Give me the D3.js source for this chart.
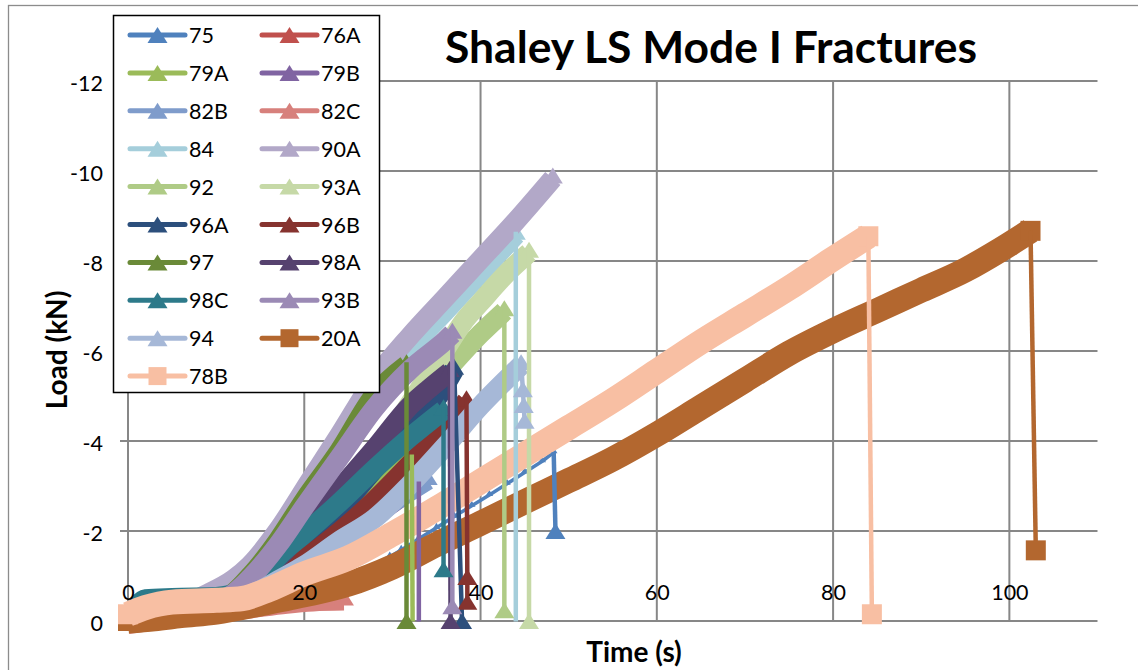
<!DOCTYPE html>
<html><head><meta charset="utf-8">
<script src="https://cdn.jsdelivr.net/npm/d3@7"></script>
<style>body{margin:0;background:#fff}svg{display:block}</style>
</head><body>
<svg id="chart" width="1138" height="670"></svg>
<script>
// ---------------- DATA ----------------
const seriesNames = ["75","76A","79A","79B","82B","82C","84","90A","92","93A","96A","96B","97","98A","98C","93B","94","20A","78B"];
const seriesColors = ["#4F81BD","#C0504D","#9BBB59","#8064A2","#7F9CCB","#D7807C","#A5CEDB","#B2A8C8","#AFCB86","#C6D9A7","#2C4F7C","#86332F","#6A8A38","#56426F","#2D7A8A","#9B8AB5","#A6B8D7","#B3672F","#F8BFA3"];
const seriesMarkers = ["tri","tri","tri","tri","tri","tri","tri","tri","tri","tri","tri","tri","tri","tri","tri","tri","tri","sq","sq"];

const time75  = [0,2,5,10,15,20,25,29.7,31,33,35,37,39,41,43,45,47,48.3,48.5];
const load75  = [0,-0.2,-0.35,-0.42,-0.5,-0.72,-0.95,-1.43,-1.58,-1.83,-2.07,-2.32,-2.56,-2.8,-3.05,-3.3,-3.55,-3.75,-2.0];
const time76A = [0,1,3,8,12,15,17.3,20,24,28,32,36];
const load76A = [0,-0.15,-0.4,-0.47,-0.53,-0.78,-1.1,-1.42,-2.0,-2.7,-3.5,-4.3];
const time79A = [0,1,3,8,11,14,17,20,24,28,32.2,32.3];
const load79A = [0,-0.2,-0.42,-0.48,-0.55,-0.85,-1.3,-1.75,-2.4,-3.1,-3.7,0.3];
const time79B = [0,1,3,8,12,15,18,21,25,29,33,33];
const load79B = [0,-0.2,-0.42,-0.48,-0.55,-0.75,-1.1,-1.5,-2.0,-2.55,-3.1,0.3];
const time82B = [0,1,3,8,12,15,18,22,26,30,34];
const load82B = [0,-0.2,-0.42,-0.47,-0.55,-0.72,-1.05,-1.55,-2.15,-2.7,-3.2];
const time82C = [0,3,8,14,18,21,24.5];
const load82C = [0,-0.08,-0.2,-0.35,-0.45,-0.5,-0.52];
const time84  = [0,1,3,8,11,14,17,20,24,28,32,36,40,44,44];
const load84  = [0,-0.2,-0.45,-0.5,-0.55,-1.05,-1.85,-2.75,-3.9,-5.05,-6.1,-6.95,-7.8,-8.65,0.3];
const time90A = [0,1,3,6.5,9.3,12,13.8,16.9,20.7,24,28,32,36,40,44,48.2];
const load90A = [0,-0.25,-0.45,-0.48,-0.7,-1.0,-1.3,-2.05,-3.2,-4.2,-5.45,-6.4,-7.25,-8.1,-8.95,-9.9];
const time92  = [0,1,3,8,11,14,17,20,24,28,32,36,40,42.7,42.7];
const load92  = [0,-0.2,-0.43,-0.48,-0.55,-0.9,-1.4,-2.0,-2.85,-3.75,-4.7,-5.6,-6.45,-6.95,-0.24];
const time93A = [0,1,3,8,11,14,17,20,24,28,32,34,36,38,40,43,45.5,45.5];
const load93A = [0,-0.2,-0.43,-0.48,-0.55,-1.0,-1.45,-2.05,-2.8,-3.7,-4.9,-5.5,-6.1,-6.7,-7.15,-7.8,-8.25,0];
const time96A = [0,1,3,8,11,14,17,20,24,28,32,35,37,37.9];
const load96A = [0,-0.15,-0.4,-0.48,-0.53,-0.8,-1.25,-1.75,-2.55,-3.45,-4.35,-5.0,-5.65,0];
const time96B = [0,1,3,8,12,15,17.3,20,24,28,32,36,38.4,38.5,38.5];
const load96B = [0,-0.15,-0.4,-0.48,-0.53,-0.8,-1.13,-1.45,-2.05,-2.75,-3.55,-4.4,-4.95,-0.98,-0.43];
const time97  = [0,1,3,8,11,14,17,20,24,28,31.6,31.6];
const load97  = [0,-0.25,-0.45,-0.5,-0.58,-1.1,-1.85,-2.75,-3.85,-5.1,-5.75,0];
const time98A = [0,1,3,8,11,14,17,20,24,28,32,34,36.5,36.6];
const load98A = [0,-0.2,-0.45,-0.5,-0.55,-0.9,-1.45,-2.1,-3.0,-3.9,-4.85,-5.2,-5.6,0];
const time98C = [0,1,2,5,10,13,15,17.3,20,24,28,32,35.8,35.8];
const load98C = [-0.05,-0.4,-0.55,-0.58,-0.6,-0.75,-1.05,-1.55,-2.0,-2.7,-3.45,-4.15,-4.75,-1.15];
const time93B = [0,1,3,8,11,14,17,20,24,28,32,36,36.8,36.8];
const load93B = [0,-0.2,-0.45,-0.5,-0.58,-1.05,-1.75,-2.6,-3.7,-4.8,-5.65,-6.3,-6.45,-0.33];
const time94  = [0,1,3,8,12,15,17.3,20,24,28,32,36,40,44.6,44.8,44.9,45.0];
const load94  = [0,-0.2,-0.42,-0.48,-0.55,-0.75,-1.0,-1.3,-1.85,-2.35,-3.1,-3.95,-4.85,-5.75,-5.15,-4.8,-4.45];
const time20A = [0,3,6,10,15,20,25,30,35,40,45,50,55,60,65,70,75,80,85,90,95,99,102.4,103];
const load20A = [0,-0.05,-0.12,-0.2,-0.38,-0.58,-0.82,-1.2,-1.7,-2.17,-2.65,-3.12,-3.6,-4.15,-4.75,-5.35,-5.95,-6.45,-6.9,-7.35,-7.8,-8.25,-8.67,-1.57];
const time78B = [0,2,5,10,13,16,20,25,30,35,40,45,50,55,60,65,70,75,80,84,84.4];
const load78B = [-0.15,-0.3,-0.42,-0.46,-0.5,-0.7,-1.05,-1.4,-1.93,-2.5,-3.1,-3.7,-4.3,-4.9,-5.55,-6.2,-6.8,-7.4,-8.05,-8.55,-0.15];

const seriesTimes = [time75,time76A,time79A,time79B,time82B,time82C,time84,time90A,time92,time93A,time96A,time96B,time97,time98A,time98C,time93B,time94,time20A,time78B];
const seriesLoads = [load75,load76A,load79A,load79B,load82B,load82C,load84,load90A,load92,load93A,load96A,load96B,load97,load98A,load98C,load93B,load94,load20A,load78B];

const xTicks = [0,20,40,60,80,100];
const yTicks = [0,-2,-4,-6,-8,-10,-12];
const titleText = "Shaley LS Mode I Fractures";
const xTitle = "Time (s)";
const yTitle = "Load (kN)";

// ---------------- DRAWING ----------------
const svg = d3.select("#chart");
const FONT = "Lato, 'Open Sans', sans-serif";
const x = d3.scaleLinear().domain([0,110]).range([128,1097.5]);
const y = d3.scaleLinear().domain([-12,0]).range([81,621]);
const GRID = "#878787";

svg.append("rect").attr("x",8.5).attr("y",5.5).attr("width",1200).attr("height",700)
  .attr("fill","#fff").attr("stroke","#8c8c8c").attr("stroke-width",1.3);

const defs = svg.append("defs");
defs.append("clipPath").attr("id","clipBand").append("rect").attr("x",100).attr("y",70).attr("width",1000).attr("height",570);
defs.append("clipPath").attr("id","clipDrop").append("rect").attr("x",100).attr("y",y(-12)).attr("width",1000).attr("height",y(0)-y(-12)+0.5);

// gridlines
const grid = svg.append("g");
grid.selectAll("line.h").data(yTicks).join("line").attr("class","h")
  .attr("x1",120).attr("x2",x(110)).attr("y1",d=>y(d)).attr("y2",d=>y(d))
  .attr("stroke",GRID).attr("stroke-width",2);
grid.selectAll("line.v").data(xTicks).join("line").attr("class","v")
  .attr("x1",d=>x(d)).attr("x2",d=>x(d)).attr("y1",y(-12)).attr("y2",y(0))
  .attr("stroke",GRID).attr("stroke-width",2);

function markerPath(type, s){
  s = s || 1;
  return type === "sq"
    ? `M${-10*s},${-10*s}h${20*s}v${20*s}h${-20*s}Z`
    : `M0,${-8*s}L${10*s},${8*s}L${-10*s},${8*s}Z`;
}

const series = seriesNames.map((n,i)=>({
  name:n, color:seriesColors[i], marker:seriesMarkers[i],
  pts: seriesTimes[i].map((t,j)=>[t, seriesLoads[i][j]])
}));
const thinSeries = new Set(["75"]);

const bandLine = d3.line().x(d=>x(d[0])).y(d=>y(d[1])).curve(d3.curveMonotoneX);
const dropLine = d3.line().x(d=>x(d[0])).y(d=>y(d[1]));

const bandLayer = svg.append("g").attr("clip-path","url(#clipBand)");
const dropLayer = svg.append("g");
const dropLines = dropLayer.append("g").attr("clip-path","url(#clipDrop)");
const dropMarks = dropLayer.append("g");

series.forEach(s=>{
  const pk = d3.minIndex(s.pts, d=>d[1]);
  const band = s.pts.slice(0, pk+1);
  const drop = s.pts.slice(pk);
  const g = bandLayer.append("g");
  if (thinSeries.has(s.name)) {
    g.append("path").attr("d", dropLine(band)).attr("fill","none")
      .attr("stroke", s.color).attr("stroke-width",3.5).attr("stroke-linejoin","round");
    g.selectAll("path.m").data(band).join("path").attr("class","m")
      .attr("d", markerPath(s.marker, 0.38))
      .attr("transform", d=>`translate(${x(d[0])},${y(d[1])-2})`).attr("fill", s.color);
  } else {
    const isSq = s.marker === "sq";
    g.append("path").attr("d", bandLine(band)).attr("fill","none")
      .attr("stroke", s.color).attr("stroke-width", isSq ? 25 : 20)
      .attr("stroke-linejoin","round").attr("stroke-linecap","butt")
      .attr("transform", isSq ? null : "translate(0,3)");
    g.selectAll("path.m").data([band[0], band[band.length-1]]).join("path").attr("class","m")
      .attr("d", markerPath(s.marker))
      .attr("transform", d=>`translate(${x(d[0])},${y(d[1])})`).attr("fill", s.color);
  }
  if (drop.length > 1) {
    dropLines.append("path").attr("d", dropLine(drop)).attr("fill","none")
      .attr("stroke", s.color).attr("stroke-width",4.5).attr("stroke-linejoin","round");
    dropMarks.selectAll(null).data(drop.slice(1).filter(d=>d[1] <= 0 && d[1] >= -12)).join("path")
      .attr("d", markerPath(s.marker))
      .attr("transform", d=>`translate(${x(d[0])},${y(d[1])})`).attr("fill", s.color);
  }
});

// axes (labels)
const yAxis = d3.axisLeft(y).tickValues(yTicks).tickSize(0).tickPadding(25).tickFormat(d=>String(d));
const gy = svg.append("g").attr("transform",`translate(${x(0)},0)`).call(yAxis);
gy.select(".domain").remove();
gy.attr("font-family",FONT).attr("font-size","21.5px");
gy.selectAll("text").attr("fill","#000").attr("dy","0.45em");

const xAxis = d3.axisTop(x).tickValues(xTicks).tickSize(0).tickPadding(21).tickFormat(d=>String(d));
const gx = svg.append("g").attr("transform",`translate(0,${y(0)})`).call(xAxis);
gx.select(".domain").remove();
gx.attr("font-family",FONT).attr("font-size","21.5px");
gx.selectAll("text").attr("fill","#000");

// legend
const lg = svg.append("g");
lg.append("rect").attr("x",113.5).attr("y",15.5).attr("width",266).attr("height",377)
  .attr("fill","#fff").attr("stroke","#000").attr("stroke-width",1.5);
series.forEach((s,i)=>{
  const col = i % 2, row = Math.floor(i/2);
  const x0 = col ? 262 : 130, cy = 35 + row*37.9;
  const e = lg.append("g");
  e.append("line").attr("x1",x0).attr("x2",x0+55).attr("y1",cy).attr("y2",cy)
    .attr("stroke",s.color).attr("stroke-width",5).attr("stroke-linecap","round");
  e.append("path").attr("d",markerPath(s.marker, s.marker==="sq"?0.9:1))
    .attr("transform",`translate(${x0+27.5},${cy})`).attr("fill",s.color);
  e.append("text").attr("x",x0+59).attr("y",cy+8).text(s.name)
    .attr("font-family",FONT).attr("font-size","21.5px").attr("fill","#000");
});

// titles
svg.append("text").attr("x",711).attr("y",63).attr("text-anchor","middle")
  .attr("font-family",FONT).attr("font-weight","bold").attr("font-size","44px")
  .attr("textLength",532).attr("lengthAdjust","spacingAndGlyphs").text(titleText);
svg.append("text").attr("x",634).attr("y",662).attr("text-anchor","middle")
  .attr("font-family",FONT).attr("font-weight","bold").attr("font-size","28px").text(xTitle);
svg.append("text").attr("transform","translate(67,350) rotate(-90)").attr("text-anchor","middle")
  .attr("font-family",FONT).attr("font-weight","bold").attr("font-size","28px").text(yTitle);
</script>
</body></html>
